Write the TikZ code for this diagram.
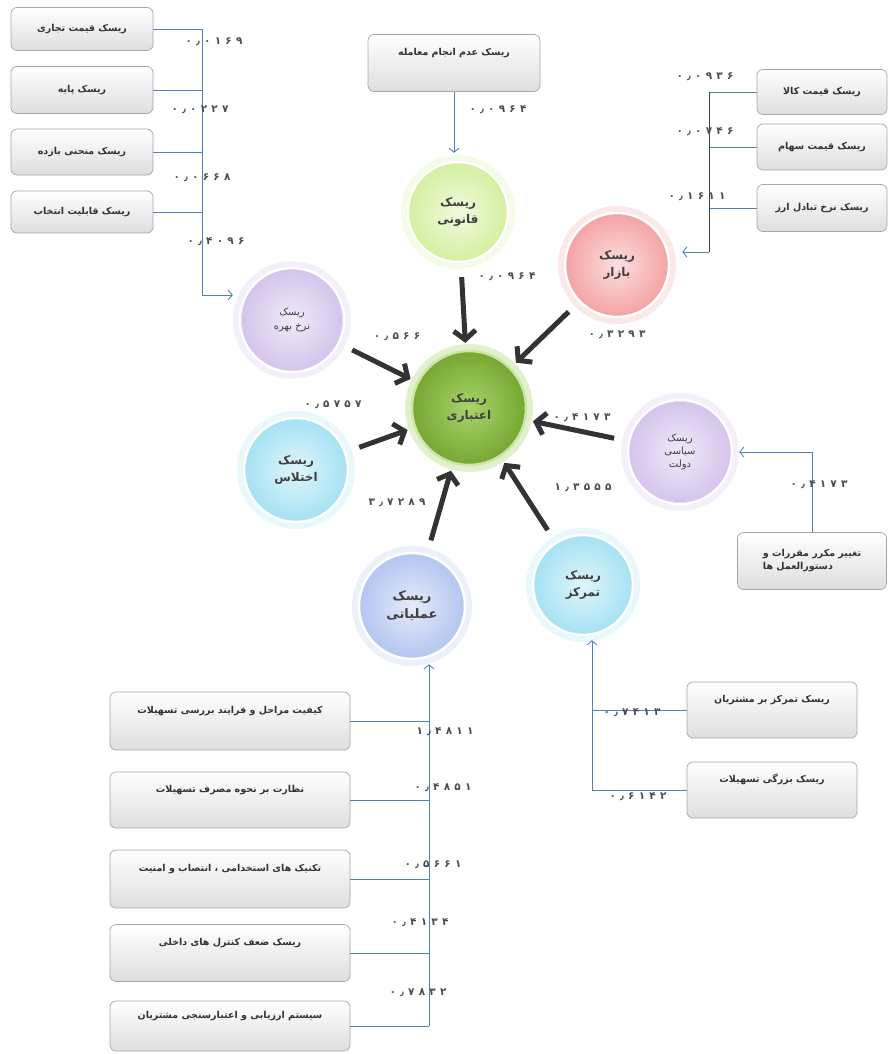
\documentclass[tikz,border=0pt]{standalone}
\usepackage{fontspec}
\usetikzlibrary{arrows.meta, positioning, calc}
\TeXXeTstate=1
\newfontfamily\farsi[Script=Arabic]{DejaVu Sans}
\newfontfamily\numfont[LetterSpace=40]{DejaVu Sans}
\newcommand{\fa}[1]{\beginR #1\endR}
\definecolor{linkblue}{HTML}{4F81BD}
\definecolor{arrowgray}{HTML}{333333}
\definecolor{boxedge}{HTML}{A6A6A6}
\definecolor{lawg}{HTML}{D4F0A0}
\definecolor{markr}{HTML}{F4A3A3}
\definecolor{lilac}{HTML}{D5C3EC}
\definecolor{creditg}{HTML}{8BC53A}
\definecolor{aqua}{HTML}{A5E2F3}
\definecolor{peri}{HTML}{B3C5F0}

\begin{document}
\begin{tikzpicture}[x=1pt, y=-1pt,
    box/.style={draw=boxedge, rounded corners=6pt, top color=white, bottom color=black!13, line width=0.7pt, align=center, inner sep=3pt, font=\farsi\bfseries\fontsize{9.5}{13}\selectfont, text=black!80},
    tall/.style={text height=7pt, text depth=22pt},
    risk/.style={circle, minimum size=104pt, inner sep=0pt, align=center, draw=white, line width=2.5pt, inner color=#1!35, outer color=#1, preaction={draw=#1!25, line width=14pt}, font=\farsi\bfseries\fontsize{12}{17}\selectfont, text=black!75},
    imp/.style={-{Straight Barb[length=9pt, width=22pt]}, line width=5pt, draw=arrowgray, shorten <=14pt, shorten >=7pt},
    link/.style={draw=linkblue, line width=0.9pt},
    feed/.style={link, -{Straight Barb[length=4pt, width=10pt]}},
    val/.style={font=\numfont\bfseries\fontsize{10.5}{11}\selectfont, text=black!70}
]
\useasboundingbox (0,0) rectangle (894,1054);

\node[risk=lilac, font=\farsi\fontsize{10}{14}\selectfont] (rate) at (292,320) {\fa{ریسک}\\\fa{نرخ بهره}};
\node[risk=lawg, minimum size=100pt] (law) at (458,212) {\fa{ریسک}\\\fa{قانونی}};
\node[risk=markr] (market) at (617,265) {\fa{ریسک}\\\fa{بازار}};
\node[risk=creditg, minimum size=114pt, inner color=creditg!75, outer color=creditg!85!black, draw=creditg!45] (credit) at (469,408) {\fa{ریسک}\\\fa{اعتباری}};
\node[risk=aqua] (fraud) at (296,470) {\fa{ریسک}\\\fa{اختلاس}};
\node[risk=lilac, font=\farsi\fontsize{10}{13}\selectfont] (gov) at (680,452) {\fa{ریسک}\\\fa{سیاسی}\\\fa{دولت}};
\node[risk=peri, minimum size=106pt, font=\farsi\bfseries\fontsize{13}{18}\selectfont] (ops) at (412,606) {\fa{ریسک}\\\fa{عملیاتی}};
\node[risk=aqua, minimum size=100pt] (conc) at (583,585) {\fa{ریسک}\\\fa{تمرکز}};

\node[box, minimum width=142pt, minimum height=43pt] (i1) at (82,29) {\fa{ریسک قیمت تجاری}};
\node[box, minimum width=142pt, minimum height=47pt] (i2) at (82,90) {\fa{ریسک پایه}};
\node[box, minimum width=142pt, minimum height=46pt] (i3) at (82,152) {\fa{ریسک منحنی بازده}};
\node[box, minimum width=142pt, minimum height=42pt] (i4) at (82,212) {\fa{ریسک قابلیت انتخاب}};
\node[box, tall, minimum width=172pt, minimum height=57pt] (deal) at (454,63) {\fa{ریسک عدم انجام معامله}};
\node[box, minimum width=130pt, minimum height=45pt] (m1) at (822,92) {\fa{ریسک قیمت کالا}};
\node[box, minimum width=130pt, minimum height=46pt] (m2) at (822,147) {\fa{ریسک قیمت سهام}};
\node[box, minimum width=130pt, minimum height=47pt] (m3) at (822,208) {\fa{ریسک نرخ تبادل ارز}};
\node[box, align=left, minimum width=149pt, minimum height=57pt] (rules) at (812,561) {\fa{تغییر مکرر مقررات و}\\\fa{دستورالعمل ها}};
\node[box, tall, minimum width=240pt, minimum height=58pt] (o1) at (230,721) {\fa{کیفیت مراحل و فرایند بررسی تسهیلات}};
\node[box, tall, minimum width=240pt, minimum height=56pt] (o2) at (230,800) {\fa{نظارت بر نحوه مصرف تسهیلات}};
\node[box, tall, minimum width=240pt, minimum height=58pt] (o3) at (230,879) {\fa{تکنیک های استخدامی ، انتصاب و امنیت}};
\node[box, tall, minimum width=240pt, minimum height=57pt] (o4) at (230,953) {\fa{ریسک ضعف کنترل های داخلی}};
\node[box, tall, minimum width=240pt, minimum height=50pt] (o5) at (230,1026) {\fa{سیستم ارزیابی و اعتبارسنجی مشتریان}};
\node[box, tall, minimum width=170pt, minimum height=56pt] (c1) at (772,710) {\fa{ریسک تمرکز بر مشتریان}};
\node[box, tall, minimum width=170pt, minimum height=56pt] (c2) at (772,790) {\fa{ریسک بزرگی تسهیلات}};

\coordinate (tlTurn) at (202,295);
\coordinate (trTurn) at (709,252);
\coordinate (blTrunk) at (429,0);
\coordinate (brTrunk) at (592,0);

\foreach \b in {i1,i2,i3,i4} \draw[link] (\b.east) -- (\b.east -| tlTurn);
\draw[link] (i1.east -| tlTurn) -- (tlTurn);
\draw[feed, shorten >=6pt] (tlTurn) -- (rate.west |- tlTurn);
\draw[feed, shorten >=8pt] (deal.south) -- (deal.south |- law.north);
\foreach \b in {m1,m2,m3} \draw[link] (\b.west) -- (\b.west -| trTurn);
\draw[link, draw=black!75] (m1.west -| trTurn) -- (trTurn);
\draw[feed, shorten >=12pt] (trTurn) -- (market.east |- trTurn);
\draw[feed, shorten >=6pt] (rules.north) |- (gov.east);
\foreach \b in {o1,o2,o3,o4,o5} \draw[link] (\b.east) -- (\b.east -| blTrunk);
\draw[feed, shorten >=4pt] (o5.east -| blTrunk) -- (blTrunk |- ops.south);
\foreach \b in {c1,c2} \draw[link] (\b.west) -- (\b.west -| brTrunk);
\draw[feed, shorten >=4pt] (c2.west -| brTrunk) -- (brTrunk |- conc.south);

\foreach \r in {law,market,rate,fraud,gov,ops,conc} \draw[imp] (\r) -- (credit);

\node[val] (vi1) at (214,42) {۰٫۰۱۶۹};
\node[val] (vi2) at (200,110) {۰٫۰۲۲۷};
\node[val] (vi3) at (202,178) {۰٫۰۶۶۸};
\node[val] (vi4) at (216,242) {۰٫۴۰۹۶};
\node[val] (vdeal) at (498,110) {۰٫۰۹۶۴};
\node[val] (vm1) at (705,77) {۰٫۰۹۳۶};
\node[val] (vm2) at (705,132) {۰٫۰۷۴۶};
\node[val] (vm3) at (697,197) {۰٫۱۶۱۱};
\node[val] (vlaw) at (507,277) {۰٫۰۹۶۴};
\node[val] (vmarket) at (617,335) {۰٫۳۲۹۳};
\node[val] (vrate) at (397,337) {۰٫۵۶۶};
\node[val] (vfraud) at (333,405) {۰٫۵۷۵۷};
\node[val] (vgov) at (582,418) {۰٫۴۱۷۳};
\node[val] (vops) at (397,503) {۳٫۷۲۸۹};
\node[val] (vconc) at (583,488) {۱٫۳۵۵۵};
\node[val] (vrules) at (819,485) {۰٫۴۱۷۳};
\node[val] (vo1) at (445,732) {۱٫۴۸۱۱};
\node[val] (vo2) at (443,788) {۰٫۴۸۵۱};
\node[val] (vo3) at (433,865) {۰٫۵۶۶۱};
\node[val] (vo4) at (420,923) {۰٫۴۱۳۴};
\node[val] (vo5) at (418,993) {۰٫۷۸۳۲};
\node[val] (vc1) at (632,713) {۰٫۷۴۱۳};
\node[val] (vc2) at (638,797) {۰٫۶۱۴۲};
\end{tikzpicture}
\end{document}
